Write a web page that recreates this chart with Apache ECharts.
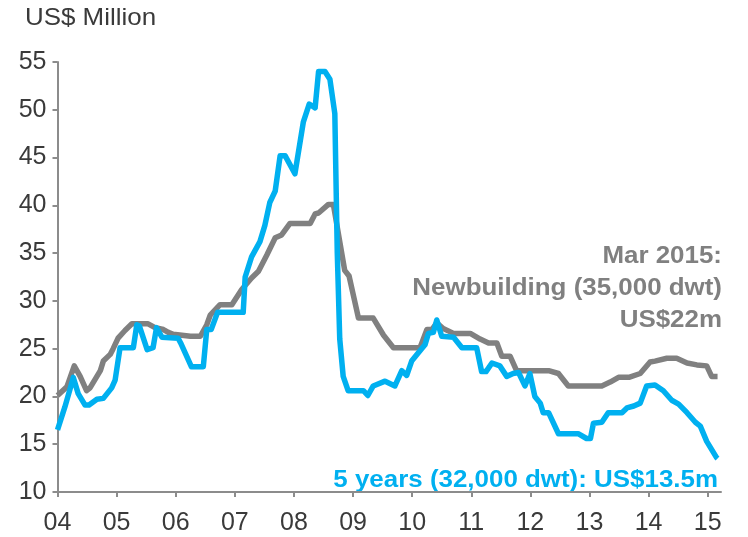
<!DOCTYPE html>
<html>
<head>
<meta charset="utf-8">
<script src="https://cdn.jsdelivr.net/npm/echarts@6/dist/echarts.min.js"></script>
<style>
html,body{margin:0;padding:0;background:#fff;}
#chart{width:748px;height:537px;}
</style>
</head>
<body>
<div id="chart"></div>
<script>
// months counted from Jan 2004 (0) to Mar 2015 (134)
var tickMonths = [0, 12, 24, 36, 48, 60, 72, 84, 96, 108, 120, 132];
var yearLabels = ['04', '05', '06', '07', '08', '09', '10', '11', '12', '13', '14', '15'];

var newbuilding = [
  [0,20.1],[1.9,21],[3.4,23.2],[4.6,22.1],[5.9,20.6],[6.6,20.9],[8,22.1],[8.7,22.7],[9.3,23.7],
  [10.7,24.4],[11.3,25],[12.3,26.1],[13.7,26.9],[15.1,27.6],[18.4,27.6],[19.8,27.2],[21.5,27],
  [22.5,26.7],[23.5,26.5],[27,26.3],[29,26.3],[30.3,27.5],[31,28.5],[33,29.6],[35.4,29.6],
  [37.4,31.2],[39.4,32.4],[40.8,33.1],[42.5,34.8],[44.2,36.6],[45.5,36.9],[47.2,38.1],[51.3,38.1],
  [52.3,39.1],[53,39.2],[55,40.1],[56,40.1],[58.3,33.2],[59.2,32.6],[61.1,28.2],[64.1,28.2],
  [66.2,26.4],[68.2,25.1],[73.6,25.1],[75,27],[76,27],[77,27.7],[78.3,27.1],[80.4,26.6],
  [83.8,26.6],[85.8,26],[87.5,25.6],[89.2,25.6],[90.2,24.2],[91.9,24.2],[93.2,22.7],[99.7,22.7],
  [101.7,22.4],[103.7,21.1],[110.5,21.1],[112.2,21.5],[113.9,22],[116,22],[118.3,22.4],
  [119.3,23],[120.3,23.6],[121.3,23.7],[123.7,24],[125.7,24],[127.8,23.5],[129.8,23.3],
  [131.8,23.2],[132.8,22.1],[134,22.1]
];

var fiveYears = [
  [0,16.5],[1.5,18.9],[2.9,21.4],[3.2,22],[4.2,20.3],[5.6,19.1],[6.4,19.1],[8,19.7],[9.3,19.8],
  [11,20.9],[11.7,21.7],[12.7,25.1],[15.4,25.1],[16.1,27.5],[16.6,27.4],[18.2,24.9],[19.4,25.1],
  [20.1,27.2],[21.2,26.2],[24.5,26.1],[25,25.6],[27.2,23.1],[29.6,23.1],[30.3,27],[31.2,27],
  [32.5,28.8],[37.7,28.8],[38.1,32.5],[39.4,34.6],[41.1,36.2],[42.1,37.9],[43.1,40.3],[44.2,41.5],
  [45.2,45.2],[46.2,45.2],[48.2,43.3],[49.9,48.7],[51.1,50.6],[52.3,50.2],[53,54],[54.3,54],
  [55.3,53.2],[56.3,49.6],[56.8,35],[57.3,26],[58,22.1],[59,20.6],[62.1,20.6],[63,20.1],
  [64.1,21.1],[66.5,21.6],[68.5,21.1],[69.9,22.7],[70.9,22.2],[71.9,23.7],[73.3,24.6],[74.6,25.4],
  [75.3,26.6],[76.3,26.7],[77,28],[78,26.3],[80.4,26.2],[82.1,25.1],[85.1,25.1],[86.1,22.6],
  [87,22.6],[88.2,23.5],[89.8,23.2],[91.2,22.1],[92.5,22.4],[93.6,22.5],[94.9,21.1],[95.9,22.4],
  [96.9,20],[98,19.3],[98.6,18.3],[99.7,18.3],[101.7,16.1],[105.7,16.1],[107.4,15.6],[108.2,15.6],
  [108.8,17.2],[110.5,17.3],[111.8,18.3],[114.6,18.3],[115.6,18.8],[117,19],[118.3,19.3],
  [119.6,21.1],[121.3,21.2],[123,20.6],[124.7,19.6],[126.1,19.2],[127.8,18.3],[129.5,17.3],
  [130.5,16.9],[131.8,15.3],[133.8,13.6],[134,13.5]
];

var FONT = '"Liberation Sans", Arial, Helvetica, sans-serif';
var GREY = '#808080';
var CYAN = '#00B0F0';
var TEXT = '#3a3a3a';

var chart = echarts.init(document.getElementById('chart'), null, {renderer: 'canvas'});
chart.setOption({
  animation: false,
  backgroundColor: '#ffffff',
  grid: {left: 57.5, right: 27, top: 62, bottom: 45, containLabel: false},
  xAxis: {
    type: 'value',
    min: 0,
    max: 134.7,
    splitLine: {show: false},
    axisLine: {show: true, lineStyle: {color: '#8c8c8c', width: 2}},
    axisTick: {show: true, length: 5, customValues: tickMonths, lineStyle: {color: '#8c8c8c', width: 2}},
    axisLabel: {
      customValues: tickMonths,
      margin: 19,
      color: TEXT,
      fontSize: 25,
      fontFamily: FONT,
      formatter: function (v) {
        var i = tickMonths.indexOf(Math.round(v));
        return i >= 0 ? yearLabels[i] : '';
      }
    }
  },
  yAxis: {
    type: 'value',
    min: 10,
    max: 55,
    interval: 5,
    splitLine: {show: false},
    axisLine: {show: true, lineStyle: {color: '#8c8c8c', width: 2}},
    axisTick: {show: true, length: 5, lineStyle: {color: '#8c8c8c', width: 2}},
    axisLabel: {margin: 11, color: TEXT, fontSize: 25, fontFamily: FONT}
  },
  series: [
    {
      name: 'Newbuilding (35,000 dwt)',
      type: 'line',
      data: newbuilding,
      showSymbol: false,
      lineStyle: {color: GREY, width: 5.5, join: 'round'},
      itemStyle: {color: GREY},
      z: 2
    },
    {
      name: '5 years (32,000 dwt)',
      type: 'line',
      data: fiveYears,
      showSymbol: false,
      lineStyle: {color: CYAN, width: 5.5, join: 'round'},
      itemStyle: {color: CYAN},
      z: 3
    }
  ],
  graphic: [
    {type: 'text', x: 25, y: 18, scaleX: 1.08,
      style: {text: 'US$ Million', font: '24px ' + FONT, fill: TEXT, align: 'left', verticalAlign: 'middle'}},
    {type: 'text', x: 722, y: 256, scaleX: 1.08,
      style: {text: 'Mar 2015:', font: 'bold 24px ' + FONT, fill: GREY, align: 'right', verticalAlign: 'middle'}},
    {type: 'text', x: 722, y: 288, scaleX: 1.08,
      style: {text: 'Newbuilding (35,000 dwt)', font: 'bold 24px ' + FONT, fill: GREY, align: 'right', verticalAlign: 'middle'}},
    {type: 'text', x: 722, y: 320, scaleX: 1.08,
      style: {text: 'US$22m', font: 'bold 24px ' + FONT, fill: GREY, align: 'right', verticalAlign: 'middle'}},
    {type: 'text', x: 718, y: 480, scaleX: 1.08,
      style: {text: '5 years (32,000 dwt): US$13.5m', font: 'bold 24px ' + FONT, fill: CYAN, align: 'right', verticalAlign: 'middle'}}
  ]
});
</script>
</body>
</html>
